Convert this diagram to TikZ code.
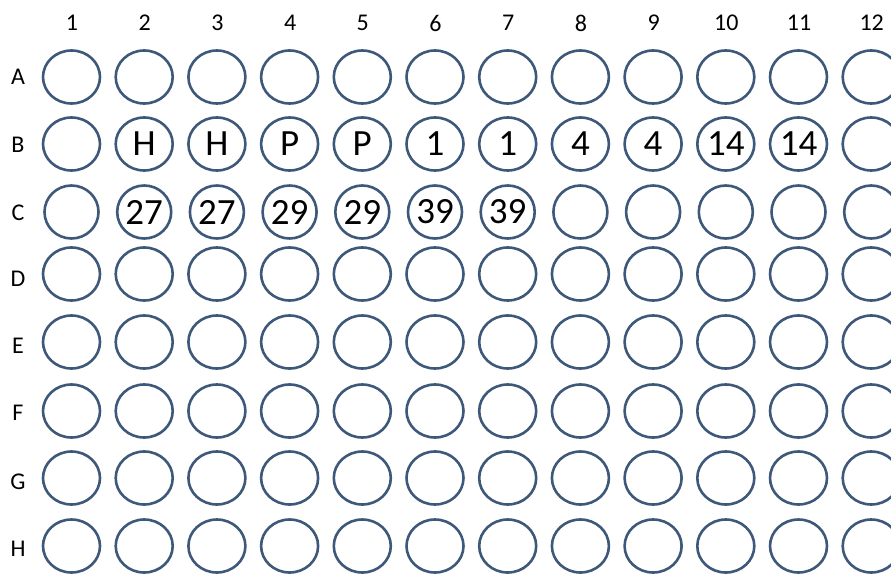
\documentclass[tikz,border=0pt]{standalone}
\usepackage{fontspec}
\setmainfont{Carlito}
\usetikzlibrary{shapes.geometric}
\definecolor{wellblue}{RGB}{62,88,122}
\tikzset{
  well/.style={ellipse,draw=wellblue,line width=2.6pt,minimum width=57pt,
    minimum height=53pt,inner sep=0pt,font=\fontsize{37}{37}\selectfont},
  collabel/.style={font=\fontsize{24}{24}\selectfont},
  rowlabel/.style={font=\fontsize{24}{24}\selectfont},
}
\begin{document}
\begin{tikzpicture}[x=1pt,y=-1pt]
\useasboundingbox (0,0) rectangle (891,575);
\clip (0,0) rectangle (891,575);
% column numbers
\foreach \c in {1,...,12}
  \node[collabel] (col\c) at ({72+72.7*(\c-1)},23) {\c};
% row letters
\foreach \r/\y in {A/77,B/145,C/213,D/279,E/346,F/413,G/482,H/549}
  \node[rowlabel] (row\r) at (18,\y) {\r};
% empty rows
\foreach \r/\y in {A/77,D/274,E/342,F/411,G/478,H/546}
  \foreach \c in {1,...,12}
    \node[well] (\r\c) at ({71.5+72.7*(\c-1)},\y) {};
% rows with samples
\foreach \c/\t in {1/{},2/H,3/H,4/P,5/P,6/1,7/1,8/4,9/4,10/14,11/14,12/{}}
  \node[well] (B\c) at ({71.5+72.7*(\c-1)},144) {\t};
\foreach \c/\t in {1/{},2/27,3/27,4/29,5/29,6/39,7/39,8/{},9/{},10/{},11/{},12/{}}
  \node[well,minimum width=54pt] (C\c) at ({71.5+72.7*(\c-1)},212) {\t};
\end{tikzpicture}
\end{document}
